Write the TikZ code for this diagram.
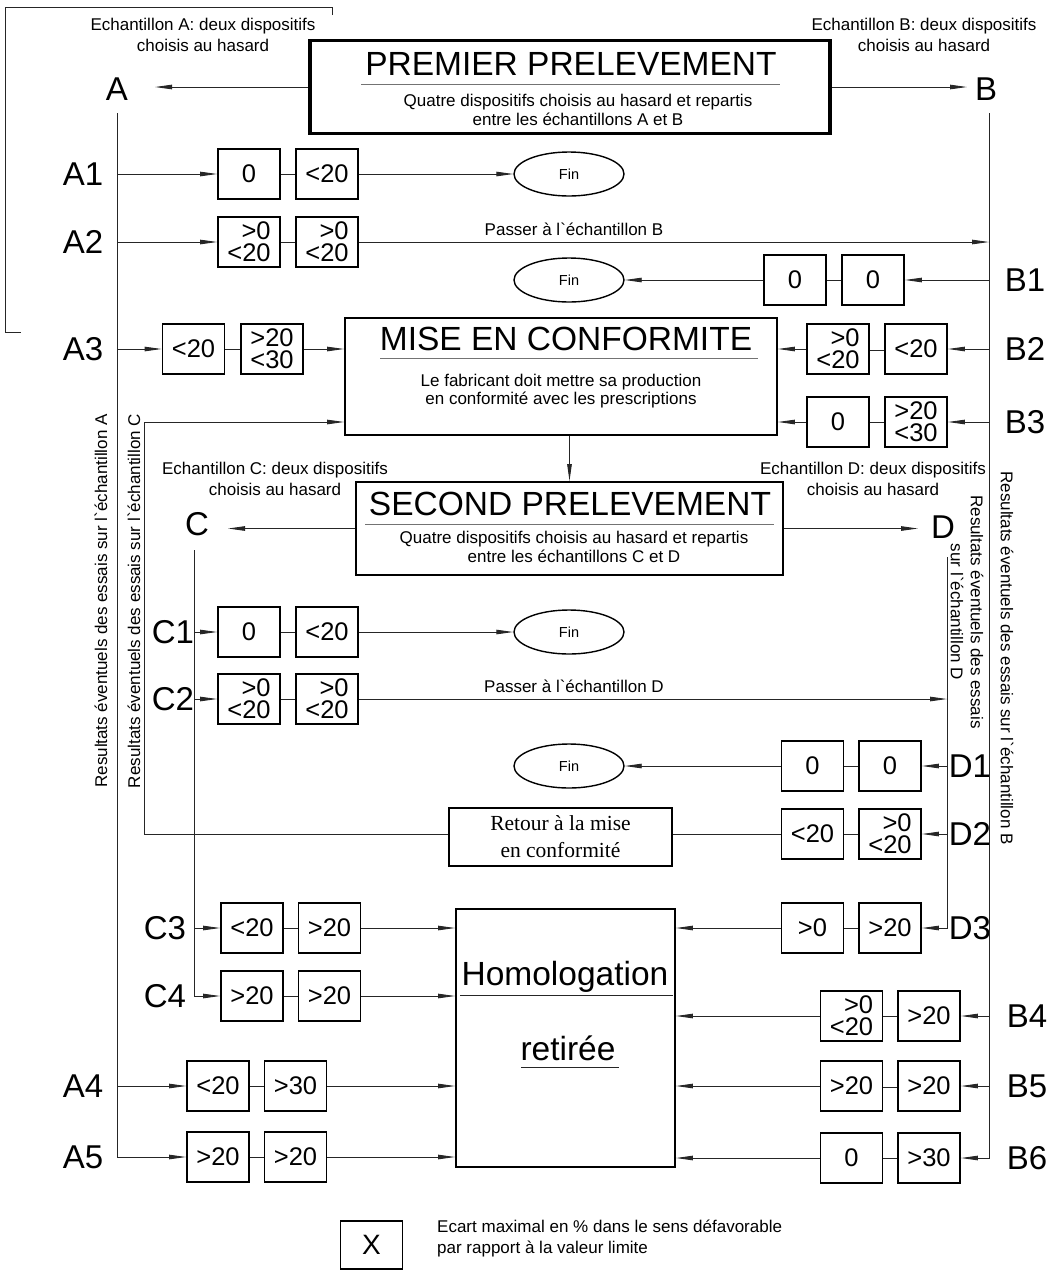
\documentclass[tikz,border=0pt]{standalone}
\usepackage{fontspec}
\setmainfont{Liberation Sans}
\newfontfamily\serifont{Liberation Serif}
\usetikzlibrary{arrows.meta,shapes.geometric}
\tikzset{
 conn/.style={line width=0.9pt, draw=black!85},
 arr/.style={conn, -{Stealth[length=17pt,width=4.5pt,inset=0pt]}},
 dbl/.style={line width=0.7pt, draw=black!85, double, double distance=1.6pt},
 vbox/.style={draw, line width=1.8pt, minimum width=62pt, minimum height=50pt, inner sep=0pt, align=right, font=\fontsize{25.5}{22}\selectfont},
 lbl/.style={font=\fontsize{33}{33}\selectfont, inner sep=0pt},
 small/.style={font=\fontsize{17}{21}\selectfont, align=center, inner sep=0pt},
 sub/.style={font=\fontsize{17}{19}\selectfont, align=center, inner sep=0pt},
 fin/.style={draw, ellipse, line width=1.4pt, minimum width=110pt, minimum height=44pt, inner sep=0pt, font=\fontsize{14.5}{14.5}\selectfont},
 ttl/.style={font=\fontsize{33.5}{33.5}\selectfont, inner sep=0pt},
 uline/.style={line width=1pt, draw=black!55},
 bigbox/.style={draw, line width=1.8pt, inner sep=0pt},
}
\begin{document}
\begin{tikzpicture}[x=1pt,y=-1pt]
\useasboundingbox (0,0) rectangle (1053,1270);
% bracket at top left
\draw[conn] (332,15) -- (332,7) -- (5,7) -- (5,332) -- (21,332);

% headers
\node[small] (hA) at (203,35) {Echantillon A: deux dispositifs\\choisis au hasard};
\node[small] (hB) at (924,35) {Echantillon B: deux dispositifs\\choisis au hasard};
\node[lbl] (A) at (117,89) {A};
\node[lbl] (B) at (986,89) {B};

% premier prelevement
\node[bigbox, line width=3.5pt, minimum width=520pt, minimum height=93pt] (P) at (570,87) {};
\node[ttl] (Pt) at (571,64) {PREMIER PRELEVEMENT};
\draw[uline] (361,84) -- (780,84);
\node[sub] (Ps) at (578,110) {Quatre dispositifs choisis au hasard et repartis\\entre les échantillons A et B};
\coordinate (Atip) at (155,87);
\coordinate (Btip) at (967,87);
\draw[arr] (P.west) -- (Atip);
\draw[arr] (P.east) -- (Btip);

% main verticals
\coordinate (Atop) at (117,113);
\coordinate (Btop) at (989,113);

% row labels
\node[lbl] (lA1) at (83,174) {A1};
\node[lbl] (lA2) at (83,242) {A2};
\node[lbl] (lA3) at (83,349) {A3};
\node[lbl] (lA4) at (83,1086) {A4};
\node[lbl] (lA5) at (83,1157) {A5};
\node[lbl] (lB1) at (1025,280) {B1};
\node[lbl] (lB2) at (1025,349) {B2};
\node[lbl] (lB3) at (1025,422) {B3};
\node[lbl] (lB4) at (1027,1016) {B4};
\node[lbl] (lB5) at (1027,1086) {B5};
\node[lbl] (lB6) at (1027,1158) {B6};
\node[lbl] (lC1) at (173,632) {C1};
\node[lbl] (lC2) at (173,699) {C2};
\node[lbl] (lC3) at (165,928) {C3};
\node[lbl] (lC4) at (165,996) {C4};
\node[lbl] (lD1) at (970,766) {D1};
\node[lbl] (lD2) at (970,834) {D2};
\node[lbl] (lD3) at (970,928) {D3};

% rotated texts
\node[small, rotate=90] (RA) at (101,601) {Resultats éventuels des essais sur l\textasciigrave{}échantillon A};
\node[small, rotate=90] (RC) at (134,601) {Resultats éventuels des essais sur l\textasciigrave{}échantillon C};
\node[small, rotate=-90] (RB) at (1007,658) {Resultats éventuels des essais sur l\textasciigrave{}échantillon B};
\node[small, rotate=-90, font=\fontsize{17}{20}\selectfont] (RD) at (967,612) {Resultats éventuels des essais\\sur l\textasciigrave{}échantillon D};

% big boxes
\node[bigbox, minimum width=432pt, minimum height=117pt] (M) at (561,376.5) {};
\node[ttl] (Mt) at (566,339) {MISE EN CONFORMITE};
\draw[uline] (380,358) -- (758,358);
\node[sub, font=\fontsize{17}{18}\selectfont] (Ms) at (561,391) {Le fabricant doit mettre sa production\\en conformité avec les prescriptions};

\node[bigbox, minimum width=427pt, minimum height=93pt] (S) at (569.5,528.5) {};
\node[ttl] (St) at (570,504) {SECOND PRELEVEMENT};
\draw[uline] (365,524) -- (774,524);
\node[sub] (Ss) at (574,547) {Quatre dispositifs choisis au hasard et repartis\\entre les échantillons C et D};
\draw[arr] (M.south -| S.north) -- (S.north);

\node[small] (hC) at (275,479) {Echantillon C: deux dispositifs\\choisis au hasard};
\node[small] (hD) at (873,479) {Echantillon D: deux dispositifs\\choisis au hasard};
\node[lbl] (C) at (197,524) {C};
\node[lbl] (D) at (943,527) {D};
\coordinate (Ctip) at (228,528.5);
\coordinate (Dtip) at (918,528.5);
\draw[arr] (S.west) -- (Ctip);
\draw[arr] (S.east) -- (Dtip);
\coordinate (Ctop) at (194,550);
\coordinate (Dtop) at (947,557);

\node[bigbox, minimum width=223pt, minimum height=58pt, font=\serifont\fontsize{21.5}{27}\selectfont, align=center] (R) at (560.5,837) {Retour à la mise\\en conformité};

\node[bigbox, minimum width=219pt, minimum height=258pt] (H) at (565.5,1038) {};
\node[ttl] (Ht) at (565,977) {Homologation};
\draw[conn] (460,995) -- (673,995);
\node[ttl] (Hr) at (568,1048) {retirée};
\draw[conn] (521,1067) -- (619,1067);

% ---- row A1
\node[vbox] (a1a) at (249,174) {0};
\node[vbox] (a1b) at (327,174) {<20};
\node[fin] (f1) at (569,174) {Fin};
\draw[arr] (Atop |- a1a) -- (a1a.west);
\draw[conn] (a1a) -- (a1b);
\draw[arr] (a1b.east) -- (f1.west);
% ---- row A2
\node[vbox] (a2a) at (249,242) {>0\\<20};
\node[vbox] (a2b) at (327,242) {>0\\<20};
\draw[arr] (Atop |- a2a) -- (a2a.west);
\draw[conn] (a2a) -- (a2b);
\draw[arr] (a2b.east) -- (Btop |- a2b);
\node[small] (pB) at (574,229) {Passer à l\textasciigrave{}échantillon B};
% ---- row B1
\node[vbox] (b1a) at (795,280) {0};
\node[vbox] (b1b) at (873,280) {0};
\node[fin] (f2) at (569,280) {Fin};
\draw[arr] (Btop |- b1b) -- (b1b.east);
\draw[conn] (b1b) -- (b1a);
\draw[arr] (b1a.west) -- (f2.east);
% ---- row A3
\node[vbox] (a3a) at (193.5,349) {<20};
\node[vbox] (a3b) at (272,349) {>20\\<30};
\draw[arr] (Atop |- a3a) -- (a3a.west);
\draw[conn] (a3a) -- (a3b);
\draw[arr] (a3b.east) -- (M.west |- a3b);
% ---- row B2
\node[vbox] (b2a) at (838,349) {>0\\<20};
\node[vbox] (b2b) at (916,349) {<20};
\draw[arr] (Btop |- b2b) -- (b2b.east);
\draw[dbl] (b2b.west) -- (b2a.east);
\draw[arr] (b2a.west) -- (M.east |- b2a);
% ---- row B3
\node[vbox] (b3a) at (838,422) {0};
\node[vbox] (b3b) at (916,422) {>20\\<30};
\draw[arr] (Btop |- b3b) -- (b3b.east);
\draw[conn] (b3b) -- (b3a);
\draw[arr] (b3a.west) -- (M.east |- b3a);
% ---- row C1
\node[vbox] (c1a) at (249,632) {0};
\node[vbox] (c1b) at (327,632) {<20};
\node[fin] (f3) at (569,632) {Fin};
\draw[arr] (Ctop |- c1a) -- (c1a.west);
\draw[conn] (c1a) -- (c1b);
\draw[arr] (c1b.east) -- (f3.west);
% ---- row C2
\node[vbox] (c2a) at (249,699) {>0\\<20};
\node[vbox] (c2b) at (327,699) {>0\\<20};
\draw[arr] (Ctop |- c2a) -- (c2a.west);
\draw[conn] (c2a) -- (c2b);
\draw[arr] (c2b.east) -- (Dtop |- c2b);
\node[small] (pD) at (574,686) {Passer à l\textasciigrave{}échantillon D};
% ---- row D1
\node[vbox] (d1a) at (812.5,766) {0};
\node[vbox] (d1b) at (890,766) {0};
\node[fin] (f4) at (569,766) {Fin};
\draw[arr] (Dtop |- d1b) -- (d1b.east);
\draw[conn] (d1b) -- (d1a);
\draw[arr] (d1a.west) -- (f4.east);
% ---- row D2
\node[vbox] (d2a) at (812.5,834) {<20};
\node[vbox] (d2b) at (890,834) {>0\\<20};
\draw[arr] (Dtop |- d2b) -- (d2b.east);
\draw[conn] (d2b) -- (d2a);
\draw[conn] (d2a.west) -- (R.east |- d2a);
\coordinate (Rc) at (144,834);
\coordinate (Rt) at (144,422);
\draw[arr] (R.west |- d2a) -- (Rc) -- (Rt) -- (M.west |- Rt);
% ---- row D3
\node[vbox] (d3a) at (812.5,928) {>0};
\node[vbox] (d3b) at (890,928) {>20};
\draw[arr] (Dtop) -- (Dtop |- d3b) -- (d3b.east);
\draw[conn] (d3b) -- (d3a);
\draw[arr] (d3a.west) -- (H.east |- d3a);
% ---- row C3
\node[vbox] (c3a) at (252,928) {<20};
\node[vbox] (c3b) at (329.5,928) {>20};
\draw[arr] (Ctop |- c3a) -- (c3a.west);
\draw[conn] (c3a) -- (c3b);
\draw[arr] (c3b.east) -- (H.west |- c3b);
% ---- row C4
\node[vbox] (c4a) at (252,996) {>20};
\node[vbox] (c4b) at (329.5,996) {>20};
\draw[arr] (Ctop) -- (Ctop |- c4a) -- (c4a.west);
\draw[conn] (c4a) -- (c4b);
\draw[arr] (c4b.east) -- (H.west |- c4b);
% ---- row A4
\node[vbox] (a4a) at (218,1086) {<20};
\node[vbox] (a4b) at (295.5,1086) {>30};
\draw[arr] (Atop |- a4a) -- (a4a.west);
\draw[conn] (a4a) -- (a4b);
\draw[arr] (a4b.east) -- (H.west |- a4b);
% ---- row A5
\node[vbox] (a5a) at (218,1157) {>20};
\node[vbox] (a5b) at (295.5,1157) {>20};
\draw[arr] (Atop) -- (Atop |- a5a) -- (a5a.west);
\draw[conn] (a5a) -- (a5b);
\draw[arr] (a5b.east) -- (H.west |- a5b);
% ---- row B4
\node[vbox] (b4a) at (851.5,1016) {>0\\<20};
\node[vbox] (b4b) at (929,1016) {>20};
\draw[arr] (Btop |- b4b) -- (b4b.east);
\draw[conn] (b4b) -- (b4a);
\draw[arr] (b4a.west) -- (H.east |- b4a);
% ---- row B5
\node[vbox] (b5a) at (851.5,1086) {>20};
\node[vbox] (b5b) at (929,1086) {>20};
\draw[arr] (Btop |- b5b) -- (b5b.east);
\draw[dbl] (b5b.west) -- (b5a.east);
\draw[arr] (b5a.west) -- (H.east |- b5a);
% ---- row B6
\node[vbox] (b6a) at (851.5,1158) {0};
\node[vbox] (b6b) at (929,1158) {>30};
\draw[arr] (Btop) -- (Btop |- b6b) -- (b6b.east);
\draw[conn] (b6b) -- (b6a);
\draw[arr] (b6a.west) -- (H.east |- b6a);

% legend
\node[vbox, minimum height=48pt, font=\fontsize{28}{28}\selectfont] (X) at (371.5,1245) {X};
\node[small, align=left, anchor=west] (Xt) at (437,1238) {Ecart maximal en \% dans le sens défavorable\\par rapport à la valeur limite};
\end{tikzpicture}
\end{document}
